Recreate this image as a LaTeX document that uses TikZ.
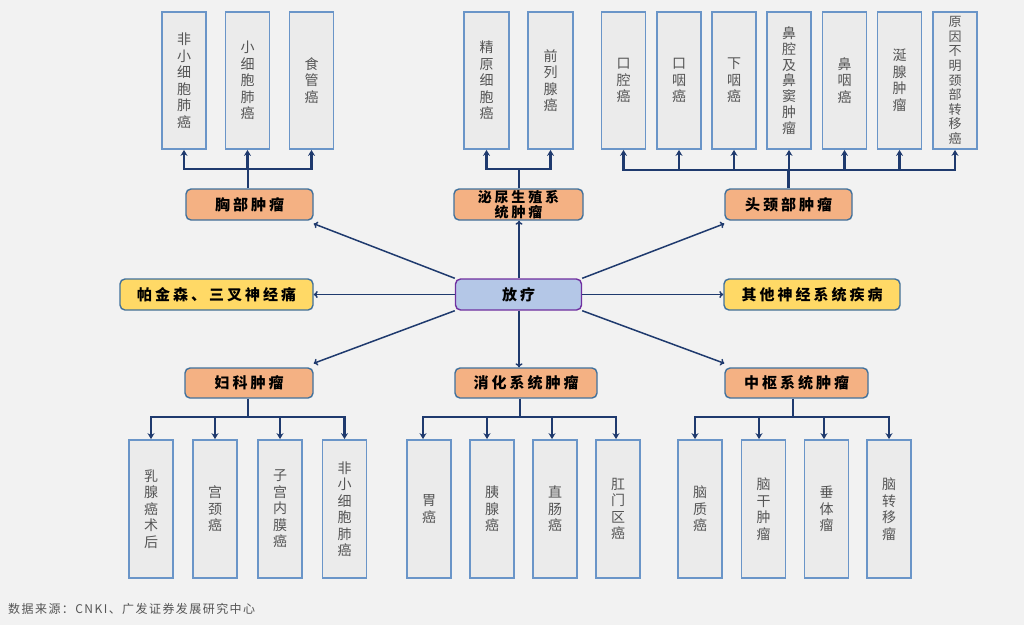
\documentclass[tikz,border=0pt]{standalone}
\usepackage{fontspec}
\setmainfont{Noto Sans CJK SC}
\newfontfamily\cjk{Noto Sans CJK SC}
\newfontfamily\cjkb[LetterSpace=20]{Noto Sans CJK SC}
\newfontfamily\cjkn[LetterSpace=12]{Noto Sans CJK SC}
\usetikzlibrary{arrows.meta,calc}
\definecolor{bgc}{HTML}{F2F2F2}
\definecolor{leafb}{HTML}{6A95C8}
\definecolor{leafg}{HTML}{EBEBEB}
\definecolor{leaft}{HTML}{555555}
\definecolor{hdrb}{HTML}{41719C}
\definecolor{hdrf}{HTML}{F4B183}
\definecolor{yelf}{HTML}{FFD966}
\definecolor{ctrf}{HTML}{B4C7E7}
\definecolor{ctrb}{HTML}{7030A0}
\definecolor{lnc}{HTML}{1F3A6E}
\begin{document}
\begin{tikzpicture}[x=1pt,y=-1pt,
  leaf/.style={draw=leafb, line width=1.8pt, fill=leafg, minimum width=44pt, minimum height=137pt, inner sep=0pt, align=center, text=leaft, font=\cjk\fontsize{14}{16.5}\selectfont},
  hdr/.style={draw=hdrb, line width=1.4pt, fill=hdrf, rounded corners=5pt, minimum height=31pt, inner sep=0pt, align=center, font=\cjkb\bfseries\fontsize{15}{15}\selectfont},
  yel/.style={hdr, fill=yelf},
  ctr/.style={hdr, fill=ctrf, draw=ctrb},
  trl/.style={draw=lnc, line width=2.6pt},
  tra/.style={draw=lnc, line width=2.6pt, -{Stealth[length=6pt,width=7pt]}},
  diag/.style={draw=lnc, line width=1.5pt, -{To[length=4pt,width=7pt]}}
]
\fill[bgc] (0,0) rectangle (1024,625);
\useasboundingbox (0,0) rectangle (1024,625);

% centre and middle row
\node[ctr, minimum width=126pt] (fl) at (518.5,294.5) {放疗};
\node[yel, minimum width=193pt] (m1) at (216.5,294.5) {帕金森、三叉神经痛};
\node[yel, minimum width=176pt] (m3) at (812,294.5) {其他神经系统疾病};

% top headers
\node[hdr, minimum width=127pt] (h1) at (249.5,204.5) {胸部肿瘤};
\node[hdr, minimum width=129pt, font=\cjkb\bfseries\fontsize{14}{14.5}\selectfont] (h2) at (518.5,204.5) {泌尿生殖系\\统肿瘤};
\node[hdr, minimum width=127pt] (h3) at (788.5,204.5) {头颈部肿瘤};

% bottom headers
\node[hdr, minimum width=128pt, minimum height=30pt] (b1) at (249,383) {妇科肿瘤};
\node[hdr, minimum width=142pt, minimum height=30pt] (b2) at (526,383) {消化系统肿瘤};
\node[hdr, minimum width=143pt, minimum height=30pt] (b3) at (796.5,383) {中枢系统肿瘤};

% top leaves
\node[leaf] (t11) at (184,80.5) {非\\小\\细\\胞\\肺\\癌};
\node[leaf] (t12) at (247.5,80.5) {小\\细\\胞\\肺\\癌};
\node[leaf] (t13) at (311.5,80.5) {食\\管\\癌};
\node[leaf, minimum width=45pt] (t21) at (486.5,80.5) {精\\原\\细\\胞\\癌};
\node[leaf, minimum width=45pt] (t22) at (550.5,80.5) {前\\列\\腺\\癌};
\node[leaf] (t31) at (623.5,80.5) {口\\腔\\癌};
\node[leaf] (t32) at (679,80.5) {口\\咽\\癌};
\node[leaf] (t33) at (734,80.5) {下\\咽\\癌};
\node[leaf, font=\cjk\fontsize{14}{15.8}\selectfont] (t34) at (789,80.5) {鼻\\腔\\及\\鼻\\窦\\肿\\瘤};
\node[leaf] (t35) at (844.5,80.5) {鼻\\咽\\癌};
\node[leaf] (t36) at (899.5,80.5) {涎\\腺\\肿\\瘤};
\node[leaf, font=\cjk\fontsize{13}{14.6}\selectfont] (t37) at (955,80.5) {原\\因\\不\\明\\颈\\部\\转\\移\\癌};

% bottom leaves
\node[leaf, minimum height=138pt] (c11) at (151,509) {乳\\腺\\癌\\术\\后};
\node[leaf, minimum height=138pt] (c12) at (215,509) {宫\\颈\\癌};
\node[leaf, minimum height=138pt] (c13) at (280,509) {子\\宫\\内\\膜\\癌};
\node[leaf, minimum height=138pt] (c14) at (344.5,509) {非\\小\\细\\胞\\肺\\癌};
\node[leaf, minimum height=138pt] (c21) at (429,509) {胃\\癌};
\node[leaf, minimum height=138pt] (c22) at (492,509) {胰\\腺\\癌};
\node[leaf, minimum height=138pt] (c23) at (555,509) {直\\肠\\癌};
\node[leaf, minimum height=138pt] (c24) at (618,509) {肛\\门\\区\\癌};
\node[leaf, minimum height=138pt] (c31) at (700,509) {脑\\质\\癌};
\node[leaf, minimum height=138pt] (c32) at (763.5,509) {脑\\干\\肿\\瘤};
\node[leaf, minimum height=138pt] (c33) at (826.5,509) {垂\\体\\瘤};
\node[leaf, minimum height=138pt] (c34) at (889,509) {脑\\转\\移\\瘤};

% junctions
\coordinate (j1) at (248,169);
\coordinate (j2) at (519,169);
\coordinate (j3) at (788.5,170);
\coordinate (j4) at (248,417);
\coordinate (j5) at (520,417);
\coordinate (j6) at (793,417);

% top trees
\draw[trl] (j1 |- h1.north) -- (j1);
\foreach \n in {t11,t12,t13} \draw[tra] (j1) -| (\n.south);
\draw[trl] (j2 |- h2.north) -- (j2);
\foreach \n in {t21,t22} \draw[tra] (j2) -| (\n.south);
\draw[trl] (j3 |- h3.north) -- (j3);
\foreach \n in {t31,t32,t33,t34,t35,t36,t37} \draw[tra] (j3) -| (\n.south);

% bottom trees
\draw[trl] (j4 |- b1.south) -- (j4);
\foreach \n in {c11,c12,c13,c14} \draw[tra] (j4) -| (\n.north);
\draw[trl] (j5 |- b2.south) -- (j5);
\draw[tra] (j5) -| ([xshift=-6pt]c21.north);
\draw[tra] (j5) -| ([xshift=-5pt]c22.north);
\draw[tra] (j5) -| ([xshift=-3pt]c23.north);
\draw[tra] (j5) -| ([xshift=-2pt]c24.north);
\draw[trl] (j6 |- b3.south) -- (j6);
\draw[tra] (j6) -| ([xshift=-5pt]c31.north);
\draw[tra] (j6) -| ([xshift=-4.5pt]c32.north);
\draw[tra] (j6) -| ([xshift=-2.5pt]c33.north);
\draw[tra] (j6) -| (c34.north);

% spokes from centre
\draw[diag] (fl.north west) -- ([yshift=-3pt]h1.south east);
\draw[diag] (fl.north -| j2) -- (h2.south -| j2);
\draw[diag] (fl.north east) -- ([yshift=-3pt]h3.south west);
\draw[diag] (fl.west) -- (m1.east);
\draw[diag] (fl.east) -- (m3.west);
\draw[diag] (fl.south west) -- ([yshift=4pt]b1.north east);
\draw[diag] (fl.south -| j2) -- (b2.north -| j2);
\draw[diag] (fl.south east) -- ([yshift=4pt]b3.north west);

% source
\node[anchor=west, inner sep=0pt, text=leaft, font=\cjkn\fontsize{12}{13}\selectfont] (src) at (8,609) {数据来源：CNKI、广发证券发展研究中心};
\end{tikzpicture}
\end{document}
